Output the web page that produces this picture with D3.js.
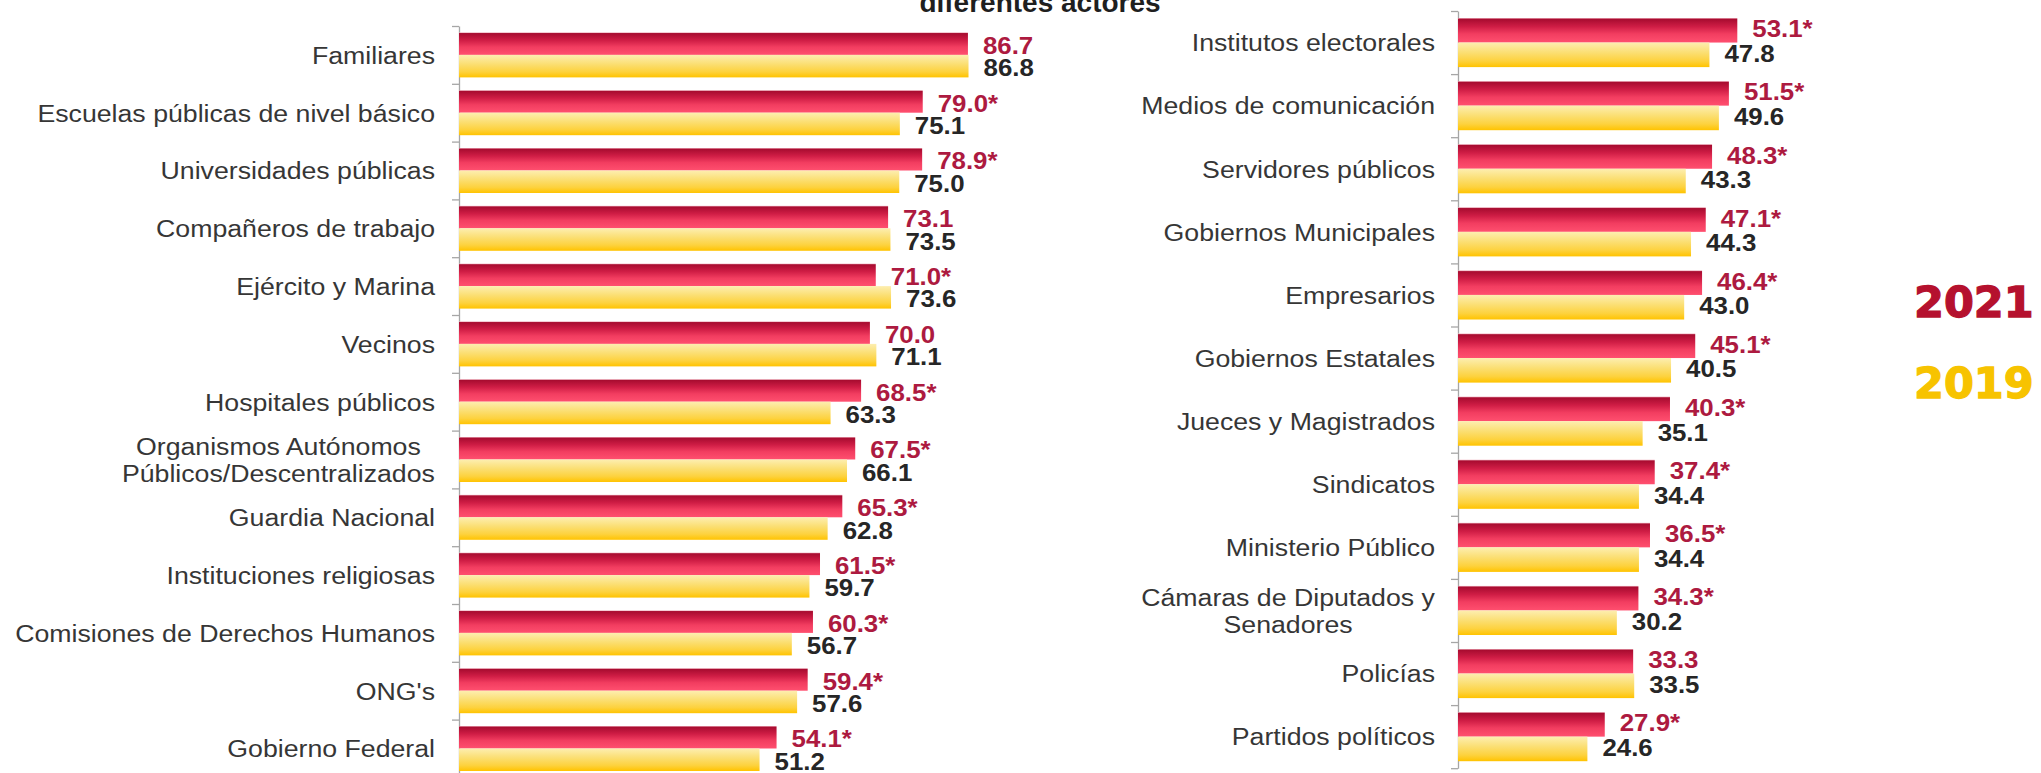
<!DOCTYPE html>
<html>
<head>
<meta charset="utf-8">
<title>Confianza en diferentes actores</title>
<script src="https://cdn.jsdelivr.net/npm/d3@7"></script>
<style>
  body { margin: 0; background: #ffffff; }
  #display { width: 2041px; height: 773px; overflow: hidden; }
  .catlabel { font-family: 'Liberation Sans', Arial, sans-serif; fill: #363636; }
  .val21 { font-family: 'Liberation Sans', Arial, sans-serif; font-weight: bold; fill: #ad1a40; }
  .val19 { font-family: 'Liberation Sans', Arial, sans-serif; font-weight: bold; fill: #262626; }
  .axis path, .axis line { stroke: #a6a6a6; stroke-width: 1.3; }
  .title { font-family: 'Liberation Sans', Arial, sans-serif; font-weight: bold; fill: #1f1f1f; }
  .legend { font-family: 'DejaVu Sans', sans-serif; font-weight: bold; stroke-width: 1.3; }
</style>
</head>
<body>
<div id="display"></div>
<script>
'use strict';

//#region data
let years = ['2021', '2019'];
let yearColours = ['#b5112e', '#f7c300'];

//left panel, '\n' splits a label over two lines
let leftCategories = ['Familiares', 'Escuelas públicas de nivel básico', 'Universidades públicas',
  'Compañeros de trabajo', 'Ejército y Marina', 'Vecinos', 'Hospitales públicos',
  'Organismos Autónomos\nPúblicos/Descentralizados', 'Guardia Nacional', 'Instituciones religiosas',
  'Comisiones de Derechos Humanos', "ONG's", 'Gobierno Federal'];
let left2021 = [86.7, 79.0, 78.9, 73.1, 71.0, 70.0, 68.5, 67.5, 65.3, 61.5, 60.3, 59.4, 54.1];
let left2019 = [86.8, 75.1, 75.0, 73.5, 73.6, 71.1, 63.3, 66.1, 62.8, 59.7, 56.7, 57.6, 51.2];
let leftSig  = [false, true, true, false, true, false, true, true, true, true, true, true, true];

//right panel
let rightCategories = ['Institutos electorales', 'Medios de comunicación', 'Servidores públicos',
  'Gobiernos Municipales', 'Empresarios', 'Gobiernos Estatales', 'Jueces y Magistrados',
  'Sindicatos', 'Ministerio Público', 'Cámaras de Diputados y\nSenadores', 'Policías', 'Partidos políticos'];
let right2021 = [53.1, 51.5, 48.3, 47.1, 46.4, 45.1, 40.3, 37.4, 36.5, 34.3, 33.3, 27.9];
let right2019 = [47.8, 49.6, 43.3, 44.3, 43.0, 40.5, 35.1, 34.4, 34.4, 30.2, 33.5, 24.6];
let rightSig  = [true, true, true, true, true, true, true, true, true, true, false, true];

let titleText = 'diferentes actores';
//#endregion

let width = 2041;
let height = 773;

let catSize = 24.5;     //category label font size
let catStretch = 1.09;  //the original text is a little wide
let valSize = 23.5;
let valStretch = 1.1;

let svg = d3.select('#display').append('svg').attr('width', width).attr('height', height);

initialise();

function initialise() {
  makeGradients();

  //left panel: axis at 459, 0..100 spans 587px, 13 bands of 57.8
  drawPanel(leftCategories, left2021, left2019, leftSig,
    { x0: 459, x1: 1046, y0: 26, y1: 26 + 13 * 57.8, labelRight: 435, dy: 2 });

  //right panel: axis at 1458, 0..100 spans 526px, 12 bands of 63.1
  drawPanel(rightCategories, right2021, right2019, rightSig,
    { x0: 1458, x1: 1984, y0: 11, y1: 11 + 12 * 63.1, labelRight: 1435, dy: -1 });

  drawTitle();
  drawLegend();
}

function makeGradients() {
  let defs = svg.append('defs');

  let red = defs.append('linearGradient').attr('id', 'grad2021')
    .attr('x1', 0).attr('y1', 0).attr('x2', 0).attr('y2', 1);
  red.append('stop').attr('offset', '0%').attr('stop-color', '#f3b8c4');
  red.append('stop').attr('offset', '5%').attr('stop-color', '#a80c30');
  red.append('stop').attr('offset', '35%').attr('stop-color', '#cf1d45');
  red.append('stop').attr('offset', '65%').attr('stop-color', '#f23d60');
  red.append('stop').attr('offset', '100%').attr('stop-color', '#ff4f6f');

  let yellow = defs.append('linearGradient').attr('id', 'grad2019')
    .attr('x1', 0).attr('y1', 0).attr('x2', 0).attr('y2', 1);
  yellow.append('stop').attr('offset', '0%').attr('stop-color', '#fdeeb0');
  yellow.append('stop').attr('offset', '40%').attr('stop-color', '#fbdf74');
  yellow.append('stop').attr('offset', '75%').attr('stop-color', '#fdd23e');
  yellow.append('stop').attr('offset', '100%').attr('stop-color', '#ffc300');
}

function drawPanel(cats, v21, v19, sig, p) {
  let x = d3.scaleLinear().domain([0, 100]).range([p.x0, p.x1]);
  let y = d3.scaleBand().domain(cats).range([p.y0, p.y1]);
  let yInner = d3.scaleBand().domain(years).range([0, y.bandwidth()]).paddingOuter(0.285);

  //axis with ticks on the band boundaries
  let yIdx = d3.scaleLinear().domain([0, cats.length]).range([p.y0, p.y1]);
  let yAxis = d3.axisLeft(yIdx).tickValues(d3.range(cats.length + 1)).tickFormat('').tickSize(7).tickSizeOuter(0);
  svg.append('g').attr('class', 'axis').attr('transform', 'translate(' + p.x0 + ',0)').call(yAxis);

  let rows = cats.map(function(c, i) {
    return { cat: c, vals: [v21[i], v19[i]], sig: sig[i] };
  });

  let g = svg.selectAll(null).data(rows).enter().append('g')
    .attr('transform', function(d) { return 'translate(0,' + y(d.cat) + ')'; });

  //bars
  years.forEach(function(yr, k) {
    g.append('rect')
      .attr('x', x(0))
      .attr('y', yInner(yr))
      .attr('width', function(d) { return x(d.vals[k]) - x(0); })
      .attr('height', yInner.bandwidth())
      .attr('fill', 'url(#grad' + yr + ')');

    g.append('text')
      .attr('class', k === 0 ? 'val21' : 'val19')
      .attr('font-size', valSize)
      .attr('dominant-baseline', 'central')
      .attr('transform', function(d) {
        return 'translate(' + (x(d.vals[k]) + 15) + ',' + (yInner(yr) + yInner.bandwidth() / 2 + p.dy) + ') scale(' + valStretch + ',1)';
      })
      .text(function(d) { return d.vals[k].toFixed(1) + (k === 0 && d.sig ? '*' : ''); });
  });

  //category labels, two-line labels centred on each other
  g.each(function(d) {
    let lines = d.cat.split('\n');
    let lineH = 27;
    let t = d3.select(this).append('text')
      .attr('class', 'catlabel')
      .attr('font-size', catSize)
      .attr('text-anchor', lines.length > 1 ? 'middle' : 'end');
    lines.forEach(function(s, i) {
      t.append('tspan').attr('x', 0)
        .attr('y', (i - (lines.length - 1) / 2) * lineH)
        .attr('dy', '0.36em')
        .text(s);
    });
    let xr = p.labelRight / catStretch;
    if (lines.length > 1) {
      let w = 0;
      t.selectAll('tspan').each(function() { w = Math.max(w, this.getComputedTextLength()); });
      xr = xr - w / 2;
    }
    t.attr('transform', 'scale(' + catStretch + ',1) translate(' + xr + ',' + y.bandwidth() / 2 + ')');
  });
}

function drawTitle() {
  //only the lower part of the title line shows in the original
  svg.append('text').attr('class', 'title')
    .attr('x', 1040).attr('y', 12)
    .attr('text-anchor', 'middle')
    .attr('font-size', 28)
    .text(titleText);
}

function drawLegend() {
  let ly = d3.scalePoint().domain(years).range([317, 398]);
  svg.selectAll('.legend').data(years).enter().append('text')
    .attr('class', 'legend')
    .attr('x', 1914)
    .attr('y', function(d) { return ly(d); })
    .attr('font-size', 43)
    .attr('fill', function(d, i) { return yearColours[i]; })
    .attr('stroke', function(d, i) { return yearColours[i]; })
    .text(function(d) { return d; });
}

//helper function for testing
function log(s) {
  console.log(s);
}
</script>
</body>
</html>
